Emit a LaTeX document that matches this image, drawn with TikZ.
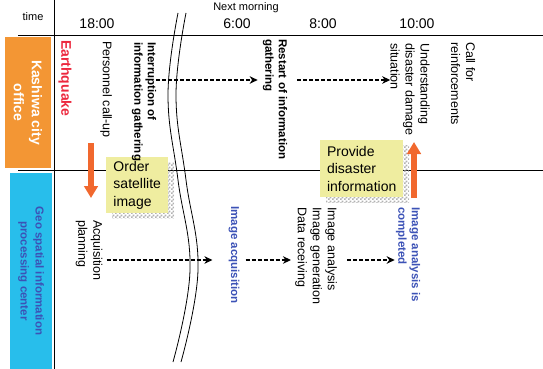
\documentclass[tikz,border=0pt]{standalone}
\usepackage{fontspec}
\setmainfont{Liberation Sans}
\usetikzlibrary{arrows.meta,positioning,patterns,shadows,calc}

\definecolor{cityorange}{RGB}{243,150,52}
\definecolor{geocyan}{RGB}{40,190,235}
\definecolor{geoblue}{RGB}{60,82,182}
\definecolor{quakered}{RGB}{236,40,62}
\definecolor{arroworange}{RGB}{241,104,46}
\definecolor{noteyellow}{RGB}{239,237,160}

% fine checker used for the box shadows
\pgfdeclarepatternformonly{finechecker}{\pgfpointorigin}{\pgfpoint{3.6pt}{3.6pt}}{\pgfpoint{3.6pt}{3.6pt}}{
    \pgfpathrectangle{\pgfpointorigin}{\pgfpoint{1.8pt}{1.8pt}}
    \pgfpathrectangle{\pgfpoint{1.8pt}{1.8pt}}{\pgfpoint{1.8pt}{1.8pt}}
    \pgfusepath{fill}}

\begin{document}
\begin{tikzpicture}[x=1pt, y=-1pt,
    lbl/.style={rotate=-90, anchor=west, inner sep=0pt, align=left, font=\fontsize{12.5}{15}\selectfont},
    boldlbl/.style={lbl, font=\bfseries\fontsize{11.5}{13.5}\selectfont},
    geolbl/.style={boldlbl, text=geoblue},
    lane/.style={rotate=-90, inner sep=0pt, align=center, font=\bfseries\fontsize{14}{18}\selectfont},
    hour/.style={font=\fontsize{14}{14}\selectfont},
    infobox/.style={fill=noteyellow, anchor=north west, inner sep=0pt, align=left,
        font=\fontsize{14}{17.5}\selectfont,
        drop shadow={shadow xshift=6pt, shadow yshift=-5pt, opacity=1, pattern=finechecker, pattern color=gray!60}},
    flow/.style={line width=1.2pt, dash pattern=on 4pt off 2pt, -{Stealth[length=8pt,width=7.5pt,inset=2.5pt]}},
    bigarrow/.style={draw=arroworange, line width=6.5pt, -{Triangle[length=12pt,width=13.5pt]}}]
    \useasboundingbox (0,0) rectangle (543,369);

    % Frame
    \draw[line width=0.8pt] (54,0) -- (54,369);
    \draw[line width=0.8pt] (18,35) -- (543,35);
    \draw[line width=0.8pt] (18,170) -- (543,170);

    % Time axis
    \node[font=\fontsize{11}{11}\selectfont] (timelbl) at (33,17) {time};
    \node[font=\fontsize{11}{11}\selectfont] (nextmorning) at (246,8) {Next morning};
    \node[hour] (t18) at (97,24) {18:00};
    \node[hour] (t6) at (237,24) {6:00};
    \node[hour] (t8) at (323,24) {8:00};
    \node[hour] (t10) at (417,24) {10:00};

    % Lanes
    \node[lane, fill=cityorange, text=white, minimum width=131, minimum height=46] (city) at (28,102.5) {Kashiwa city\\office};
    \node[lane, fill=geocyan, text=geoblue, minimum width=196, minimum height=42,
        font=\bfseries\fontsize{11.5}{15}\selectfont] (geo) at (31,271) {Geo spatial information\\processing center};

    % Messages between the lanes
    \node[infobox, minimum width=62, minimum height=56] (order) at (106,157) {Order\\satellite\\image};
    \node[infobox, minimum width=83, minimum height=57] (provide) at (320,140) {Provide\\disaster\\information};

    % Time break
    \foreach \dx in {0,8}
        \draw[line width=0.8pt, xshift=\dx] plot[smooth, tension=0.7] coordinates {(178,13) (168,95) (178,180) (190,270) (173,362)};

    % Kashiwa city office events
    \node[lbl, text=quakered, font=\bfseries\fontsize{14}{16}\selectfont] (quake) at (65,40) {Earthquake};
    \node[lbl] (callup) at (106,41) {Personnel call-up};
    \node[boldlbl] (intr) at (144,42) {Interruption of\\information gathering};
    \node[boldlbl] (restart) at (275,39) {Restart of information\\gathering};
    \node[lbl] (underst) at (410,43) {Understanding\\disaster damage\\situation};
    \node[lbl] (reinf) at (463,42) {Call for\\reinforcements};

    % Geospatial center events
    \node[lbl] (acqplan) at (89,220) {Acquisition\\planning};
    \node[geolbl] (imgacq) at (234,206) {Image acquisition};
    \node[lbl] (analysis) at (316,207) {Image analysis\\Image generation\\Data receiving};
    \node[geolbl] (done) at (408,207) {Image analysis is\\completed};

    % Dashed flows
    \coordinate (toprow) at (0,80);
    \coordinate (botrow) at (0,260);
    \draw[flow, shorten >=5pt] (intr.north |- toprow) -- (restart.south |- toprow);
    \draw[flow, shorten <=10pt] (restart.north |- toprow) -- (underst.south |- toprow);
    \draw[flow, shorten <=4pt, shorten >=16pt] (acqplan.north |- botrow) -- (imgacq.south |- botrow);
    \draw[flow, shorten <=6pt, shorten >=4pt] (imgacq.north |- botrow) -- (analysis.south |- botrow);
    \draw[flow, shorten <=10pt, shorten >=1pt] (analysis.north |- botrow) -- (done.south |- botrow);

    % Request and reply
    \coordinate (ordertop) at (91,143);
    \coordinate (orderend) at (91,198);
    \coordinate (replybot) at (414,198);
    \coordinate (replyend) at (414,142);
    \draw[bigarrow] (ordertop) -- (orderend);
    \draw[bigarrow] (replybot) -- (replyend);
\end{tikzpicture}
\end{document}
